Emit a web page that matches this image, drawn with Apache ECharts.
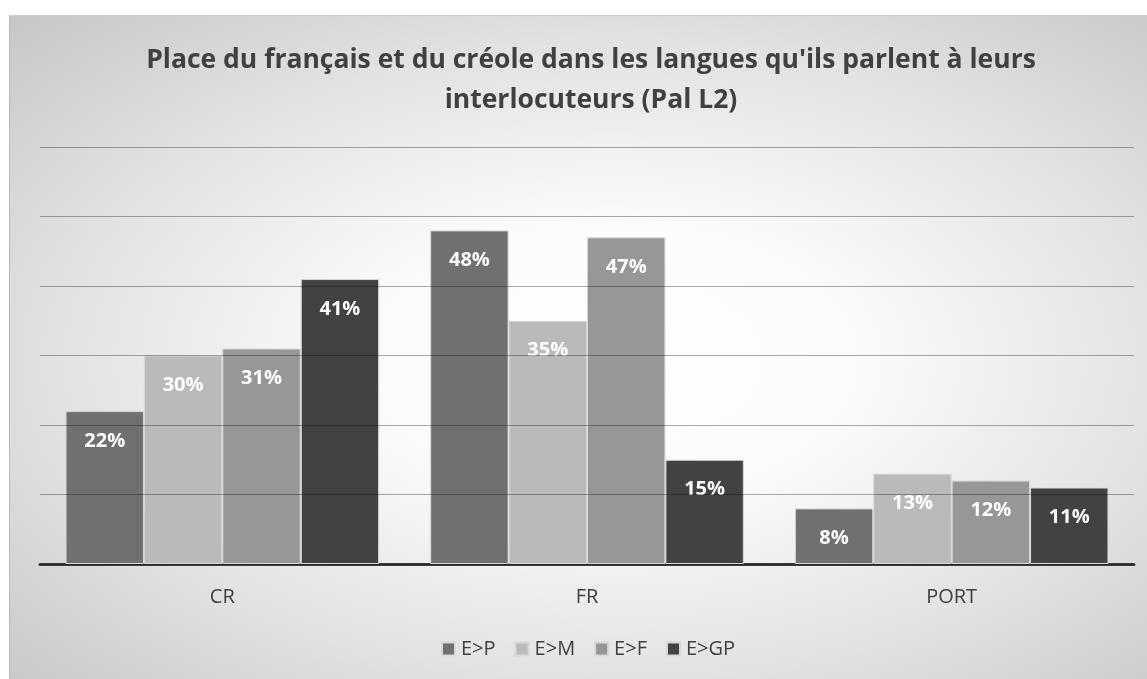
<!DOCTYPE html>
<html>
<head>
<meta charset="utf-8">
<script src="https://cdn.jsdelivr.net/npm/echarts@6/dist/echarts.min.js"></script>
<style>
  html, body { margin: 0; padding: 0; background: #ffffff; }
  #frame {
    position: absolute; left: 9px; top: 15px; width: 1138px; height: 664px;
    border-left: 1px solid #b8b8b8; border-top: 1px solid #d0d0d0;
    box-sizing: border-box;
    background: radial-gradient(ellipse farthest-corner at 53% 52%, #ffffff 0%, #fbfbfb 28%, #e2e2e2 65%, #c6c6c6 100%);
  }
  #chart { width: 100%; height: 100%; }
</style>
</head>
<body>
<div id="frame"><div id="chart"></div></div>
<script>
// Language groups on the x axis
const categories = ['CR', 'FR', 'PORT'];
// Share (%) of each language, per interlocutor
const seriesNames = ['E>P', 'E>M', 'E>F', 'E>GP'];
const valuesEP  = [22, 48, 8];
const valuesEM  = [30, 35, 13];
const valuesEF  = [31, 47, 12];
const valuesEGP = [41, 15, 11];
const seriesColors = ['#707070', '#bababa', '#979797', '#424242'];

const titleText = "Place du français et du créole dans les langues qu'ils parlent à leurs\ninterlocuteurs (Pal L2)";
const FONT = '"Open Sans", Lato, sans-serif';

const allValues = [valuesEP, valuesEM, valuesEF, valuesEGP];

const chart = echarts.init(document.getElementById('chart'));
chart.setOption({
  animation: false,
  textStyle: { fontFamily: FONT },
  title: {
    text: titleText,
    left: 581,
    top: 24,
    padding: 0,
    textAlign: 'center',
    textStyle: {
      fontFamily: FONT, fontSize: 26.5, fontWeight: 'bold', color: '#404040', lineHeight: 40
    }
  },
  legend: {
    bottom: 20,
    left: 431,
    padding: 0,
    itemWidth: 13, itemHeight: 13, itemGap: 19,
    icon: 'rect',
    textStyle: { fontFamily: FONT, fontSize: 20, color: '#404040', padding: [0, 0, 0, 1] },
    data: seriesNames
  },
  grid: { left: 30, right: 13, top: 131, bottom: 115 },
  xAxis: {
    type: 'category',
    data: categories,
    axisLine: { lineStyle: { color: '#3c3c3c', width: 3 } },
    axisTick: { show: false },
    axisLabel: { fontFamily: FONT, fontSize: 20, color: '#404040', margin: 23 }
  },
  yAxis: {
    type: 'value',
    min: 0, max: 60, interval: 10,
    z: 5,
    axisLabel: { show: false },
    axisLine: { show: false },
    axisTick: { show: false },
    splitLine: { lineStyle: { color: 'rgba(0,0,0,0.33)', width: 1 } }
  },
  series: seriesNames.map((name, i) => ({
    name,
    type: 'bar',
    data: allValues[i],
    barGap: '0%',
    barCategoryGap: '14%',
    itemStyle: { color: seriesColors[i], borderColor: '#d8d8d8', borderWidth: 1 },
    label: {
      show: true,
      position: 'insideTop',
      distance: 20,
      formatter: '{c}%',
      fontFamily: FONT,
      fontSize: 20,
      fontWeight: 'bold',
      color: '#ffffff'
    }
  }))
});
</script>
</body>
</html>
